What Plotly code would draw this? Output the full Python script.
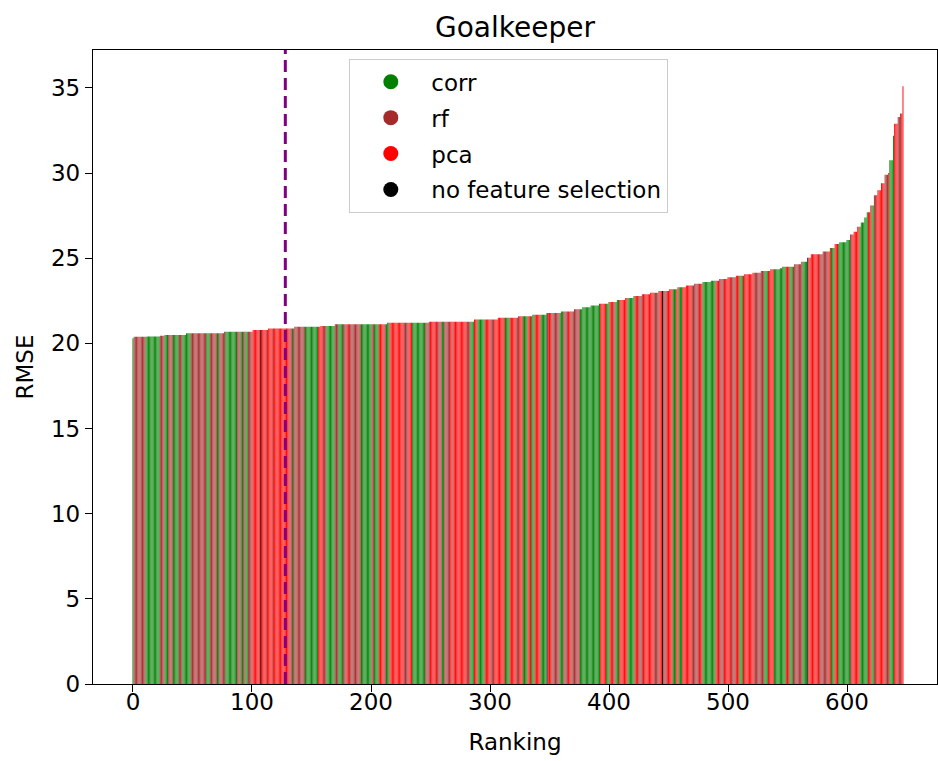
import plotly.graph_objects as go

# Feature-selection method of each ranked model, as (method, number of consecutive bars)
method_runs = [
    ("corr", 1), ("rf", 10), ("corr", 12), ("rf", 4), ("corr", 3), ("rf", 4), ("corr", 5),
    ("rf", 3), ("corr", 7), ("rf", 13), ("corr", 3), ("rf", 6), ("corr", 2), ("rf", 5),
    ("corr", 10), ("rf", 3), ("corr", 2), ("rf", 2), ("corr", 2), ("rf", 4), ("pca", 6),
    ("none", 1), ("pca", 5), ("rf", 1), ("pca", 3), ("rf", 1), ("pca", 14), ("rf", 2),
    ("corr", 1), ("rf", 10), ("corr", 11), ("pca", 4), ("rf", 3), ("corr", 7), ("rf", 3),
    ("corr", 4), ("rf", 3), ("pca", 2), ("rf", 10), ("corr", 9), ("rf", 2), ("corr", 4),
    ("pca", 4), ("rf", 2), ("corr", 3), ("pca", 12), ("rf", 4), ("pca", 3), ("corr", 11),
    ("rf", 4), ("pca", 6), ("rf", 4), ("corr", 2), ("rf", 5), ("pca", 2), ("rf", 1),
    ("pca", 11), ("rf", 3), ("corr", 3), ("pca", 3), ("corr", 6), ("pca", 5), ("rf", 3),
    ("pca", 9), ("corr", 4), ("pca", 5), ("rf", 3), ("pca", 3), ("corr", 4), ("pca", 3),
    ("corr", 3), ("pca", 5), ("corr", 5), ("none", 1), ("pca", 3), ("rf", 7), ("corr", 3),
    ("rf", 4), ("pca", 2), ("rf", 8), ("corr", 17), ("pca", 5), ("corr", 3), ("pca", 3),
    ("rf", 2), ("corr", 3), ("pca", 7), ("corr", 6), ("pca", 3), ("rf", 4), ("pca", 9),
    ("rf", 5), ("pca", 2), ("none", 1), ("rf", 3), ("pca", 5), ("corr", 3), ("pca", 2),
    ("corr", 3), ("pca", 8), ("rf", 6), ("pca", 3), ("corr", 11), ("pca", 3), ("rf", 4),
    ("pca", 6), ("rf", 4), ("pca", 3), ("corr", 3), ("pca", 9), ("rf", 9), ("corr", 3),
    ("pca", 5), ("corr", 10), ("pca", 3), ("corr", 3), ("rf", 8), ("corr", 4), ("none", 1),
    ("pca", 9), ("rf", 8), ("pca", 2), ("corr", 3), ("pca", 3), ("corr", 10), ("rf", 2),
    ("pca", 6), ("corr", 7), ("pca", 3), ("corr", 2), ("rf", 2), ("pca", 7), ("rf", 3),
    ("pca", 1), ("corr", 4), ("pca", 3), ("rf", 3), ("pca", 2),
]

# RMSE of the ranked models, as (RMSE, number of consecutive bars sharing it)
rmse_runs = [
    (20.30, 1), (20.39, 11), (20.40, 11), (20.45, 4), (20.49, 18), (20.59, 32),
    (20.69, 24), (20.79, 13), (20.88, 22), (20.98, 22), (21.02, 12), (21.12, 44),
    (21.22, 35), (21.27, 38), (21.41, 20), (21.51, 17), (21.60, 12), (21.68, 12),
    (21.78, 12), (21.88, 11), (22.00, 7), (22.12, 7), (22.22, 7), (22.33, 8),
    (22.43, 7), (22.55, 7), (22.66, 7), (22.78, 7), (22.88, 7), (22.98, 7),
    (23.08, 9), (23.18, 7), (23.30, 7), (23.40, 7), (23.50, 7), (23.60, 7),
    (23.68, 7), (23.78, 7), (23.88, 7), (23.98, 7), (24.06, 7), (24.15, 7),
    (24.25, 8), (24.35, 8), (24.42, 2), (24.50, 10), (24.65, 6), (24.80, 5),
    (25.03, 3), (25.23, 10), (25.40, 6), (25.60, 4), (25.84, 4), (25.94, 6),
    (26.07, 3), (26.40, 3), (26.56, 3), (26.85, 3), (27.10, 3), (27.40, 2),
    (27.70, 3), (28.10, 3), (28.70, 3), (29.00, 3), (29.40, 3), (29.90, 3),
    (30.00, 1), (30.75, 3), (32.20, 1), (32.90, 3), (33.30, 2), (33.50, 2),
    (35.10, 1),
]

method_labels = ["corr", "rf", "pca", "none"]
legend_names = {"corr": "corr", "rf": "rf", "pca": "pca", "none": "no feature selection"}
method_colors = {"corr": "#008000", "rf": "#a52a2a", "pca": "#ff0000", "none": "#000000"}
# same colours for the bars, with an alpha just under 1 so plotly keeps the
# sub-pixel bar edges (and the 0.2 gaps) instead of widening them to whole pixels
bar_colors = {"corr": "rgba(0,128,0,0.99)", "rf": "rgba(165,42,42,0.99)",
              "pca": "rgba(255,0,0,0.99)", "none": "rgba(0,0,0,0.99)"}

cutoff_rank = 128
x_ticks = [0, 100, 200, 300, 400, 500, 600]
y_ticks = [0, 5, 10, 15, 20, 25, 30, 35]

methods = [m for m, n in method_runs for _ in range(n)]
rmse = [v for v, n in rmse_runs for _ in range(n)]
ranking = list(range(len(rmse)))

fig = go.Figure()
fig.add_trace(go.Bar(
    x=ranking, y=rmse, width=0.8,
    marker=dict(color=[bar_colors[m] for m in methods], line=dict(width=0)),
    showlegend=False, hoverinfo="x+y",
))

for m in method_labels:
    fig.add_trace(go.Scatter(
        x=[None], y=[None], mode="markers", name=legend_names[m],
        marker=dict(color=method_colors[m], size=15, symbol="circle"),
        legendgroup=m, showlegend=True,
    ))

fig.add_shape(type="line", xref="x", yref="paper", x0=cutoff_rank, x1=cutoff_rank,
              y0=0, y1=1, line=dict(color="#800080", width=3, dash="12px,6px"), layer="above")

tick_font = dict(size=23, color="black", family="DejaVu Sans")
axis_common = dict(showgrid=False, zeroline=False, showline=True, linecolor="black",
                   linewidth=1.4, mirror=True, ticks="outside", ticklen=7, tickwidth=1.4,
                   tickcolor="black", tickfont=tick_font)

fig.update_layout(
    width=938, height=761,
    margin=dict(l=93, r=1, t=50, b=77),
    paper_bgcolor="white", plot_bgcolor="white",
    font=dict(family="DejaVu Sans", color="black"),
    title=dict(text="Goalkeeper", x=0.5, xref="paper", y=1 - 27 / 761, yref="container",
               xanchor="center", yanchor="middle", font=dict(size=28, color="black")),
    xaxis=dict(range=[-33.6, 675.6], tickvals=x_ticks, ticklabelstandoff=-10,
               title=dict(text="Ranking", font=dict(size=23), standoff=20), **axis_common),
    yaxis=dict(range=[0, 37.23], tickvals=y_ticks,
               title=dict(text="RMSE", font=dict(size=23), standoff=10), **axis_common),
    bargap=0.2,
    legend=dict(x=(349 - 93) / 844, y=(684 - 59) / 634, xanchor="left", yanchor="top",
                bgcolor="rgba(255,255,255,0.85)", bordercolor="#cccccc", borderwidth=1.3,
                font=dict(size=23), tracegroupgap=3, itemwidth=71,
                traceorder="grouped"),
)

# Let the browser antialias the thin bars instead of snapping them to whole pixels
smooth_bars = """
document.querySelectorAll('.barlayer path, .bars path, .point path').forEach(function (p) {
    p.setAttribute('shape-rendering', 'geometricPrecision');
    p.style.shapeRendering = 'geometricPrecision';
});
"""

fig.write_html("out.html", post_script=smooth_bars)
